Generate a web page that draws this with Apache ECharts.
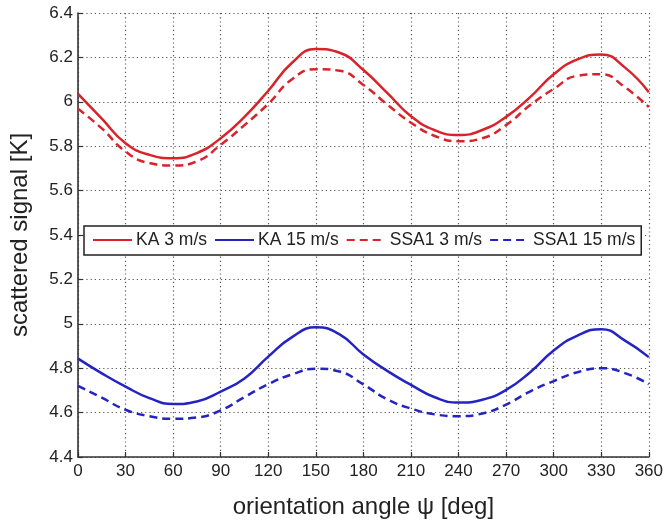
<!DOCTYPE html>
<html>
<head>
<meta charset="utf-8">
<script src="https://cdn.jsdelivr.net/npm/echarts@6/dist/echarts.min.js"></script>
<style>
  html, body { margin: 0; padding: 0; background: #fff; }
  #chart { width: 666px; height: 524px; }
</style>
</head>
<body>
<div id="chart"></div>
<script>
// orientation angle samples [deg]
const angles = [0, 15, 30, 45, 60, 75, 90, 105, 120, 135, 150, 165, 180,
                195, 210, 225, 240, 255, 270, 285, 300, 315, 330, 345, 360];

// scattered signal [K]
const ka3 = [6.036, 5.924, 5.813, 5.761, 5.746, 5.769, 5.836, 5.932, 6.050, 6.176, 6.238, 6.221, 6.143,
             6.040, 5.935, 5.872, 5.850, 5.873, 5.932, 6.020, 6.124, 6.191, 6.213, 6.154, 6.043];
const ka15 = [4.843, 4.777, 4.717, 4.665, 4.639, 4.650, 4.695, 4.754, 4.852, 4.940, 4.984, 4.952, 4.862,
              4.788, 4.725, 4.669, 4.645, 4.658, 4.702, 4.781, 4.880, 4.947, 4.976, 4.924, 4.850];
const ssa3 = [5.969, 5.880, 5.776, 5.724, 5.713, 5.732, 5.806, 5.895, 5.991, 6.102, 6.147, 6.140, 6.076,
              5.988, 5.906, 5.846, 5.822, 5.836, 5.895, 5.984, 6.058, 6.117, 6.124, 6.065, 5.976];
const ssa15 = [4.720, 4.667, 4.613, 4.584, 4.572, 4.578, 4.610, 4.670, 4.728, 4.772, 4.798, 4.785, 4.727,
               4.660, 4.618, 4.592, 4.584, 4.596, 4.636, 4.695, 4.742, 4.782, 4.800, 4.778, 4.728];

const seriesNames = ['KA 3 m/s', 'KA 15 m/s', 'SSA1 3 m/s', 'SSA1 15 m/s'];

const RED = '#d8232a';
const BLUE = '#2424c2';
const FONT = 'Liberation Sans, Arial, Helvetica, sans-serif';
const TEXT = '#222';

const pairs = ys => angles.map((a, i) => [a, ys[i]]);

function lineSeries(name, ys, color, dashed) {
  return {
    name: name,
    type: 'line',
    data: pairs(ys),
    smooth: 0.5,
    showSymbol: false,
    symbol: 'none',
    lineStyle: { color: color, width: 2.5, type: dashed ? [8, 5] : 'solid' },
    itemStyle: { color: color },
    z: 3
  };
}

const gridLine = { show: true, lineStyle: { color: '#555', width: 1.2, type: [1.2, 3] } };

const chart = echarts.init(document.getElementById('chart'), null, { renderer: 'canvas' });
chart.setOption({
  animation: false,
  backgroundColor: '#fff',
  textStyle: { fontFamily: FONT },
  grid: { left: 76, right: 15, top: 13, bottom: 61, containLabel: false },
  legend: {
    data: seriesNames,
    left: 84,
    top: 226,
    orient: 'horizontal',
    itemWidth: 39,
    itemHeight: 14,
    itemGap: 7,
    padding: [5, 6, 6, 8],
    backgroundColor: '#fff',
    borderColor: '#222',
    borderWidth: 1.5,
    // line-only keys: the marker glyph is hidden, the stroke keeps the series dash
    itemStyle: { opacity: 0 },
    textStyle: { fontFamily: FONT, fontSize: 17.5, color: TEXT, padding: [0, 0, 0, -1] },
    z: 10
  },
  xAxis: {
    type: 'value',
    min: 0, max: 360, interval: 30,
    name: 'orientation angle \u03c8 [deg]',
    nameLocation: 'middle',
    nameGap: 38,
    nameTextStyle: { fontFamily: FONT, fontSize: 24, color: TEXT },
    axisLine: { show: true, onZero: false, lineStyle: { color: '#333', width: 1.6 } },
    axisTick: { show: true, inside: true, length: 5, lineStyle: { color: '#333', width: 1.2 } },
    axisLabel: { fontFamily: FONT, fontSize: 17, color: TEXT, margin: 6 },
    splitLine: gridLine
  },
  yAxis: {
    type: 'value',
    min: 4.4, max: 6.4, interval: 0.2,
    name: 'scattered signal [K]',
    nameLocation: 'middle',
    nameGap: 46,
    nameTextStyle: { fontFamily: FONT, fontSize: 24, color: TEXT },
    axisLine: { show: true, lineStyle: { color: '#333', width: 1.6 } },
    axisTick: { show: true, inside: true, length: 5, lineStyle: { color: '#333', width: 1.2 } },
    axisLabel: {
      fontFamily: FONT, fontSize: 17, color: TEXT, margin: 5,
      formatter: v => String(Math.round(v * 10) / 10)
    },
    splitLine: gridLine
  },
  series: [
    lineSeries(seriesNames[0], ka3, RED, false),
    lineSeries(seriesNames[1], ka15, BLUE, false),
    lineSeries(seriesNames[2], ssa3, RED, true),
    lineSeries(seriesNames[3], ssa15, BLUE, true)
  ]
});
</script>
</body>
</html>
